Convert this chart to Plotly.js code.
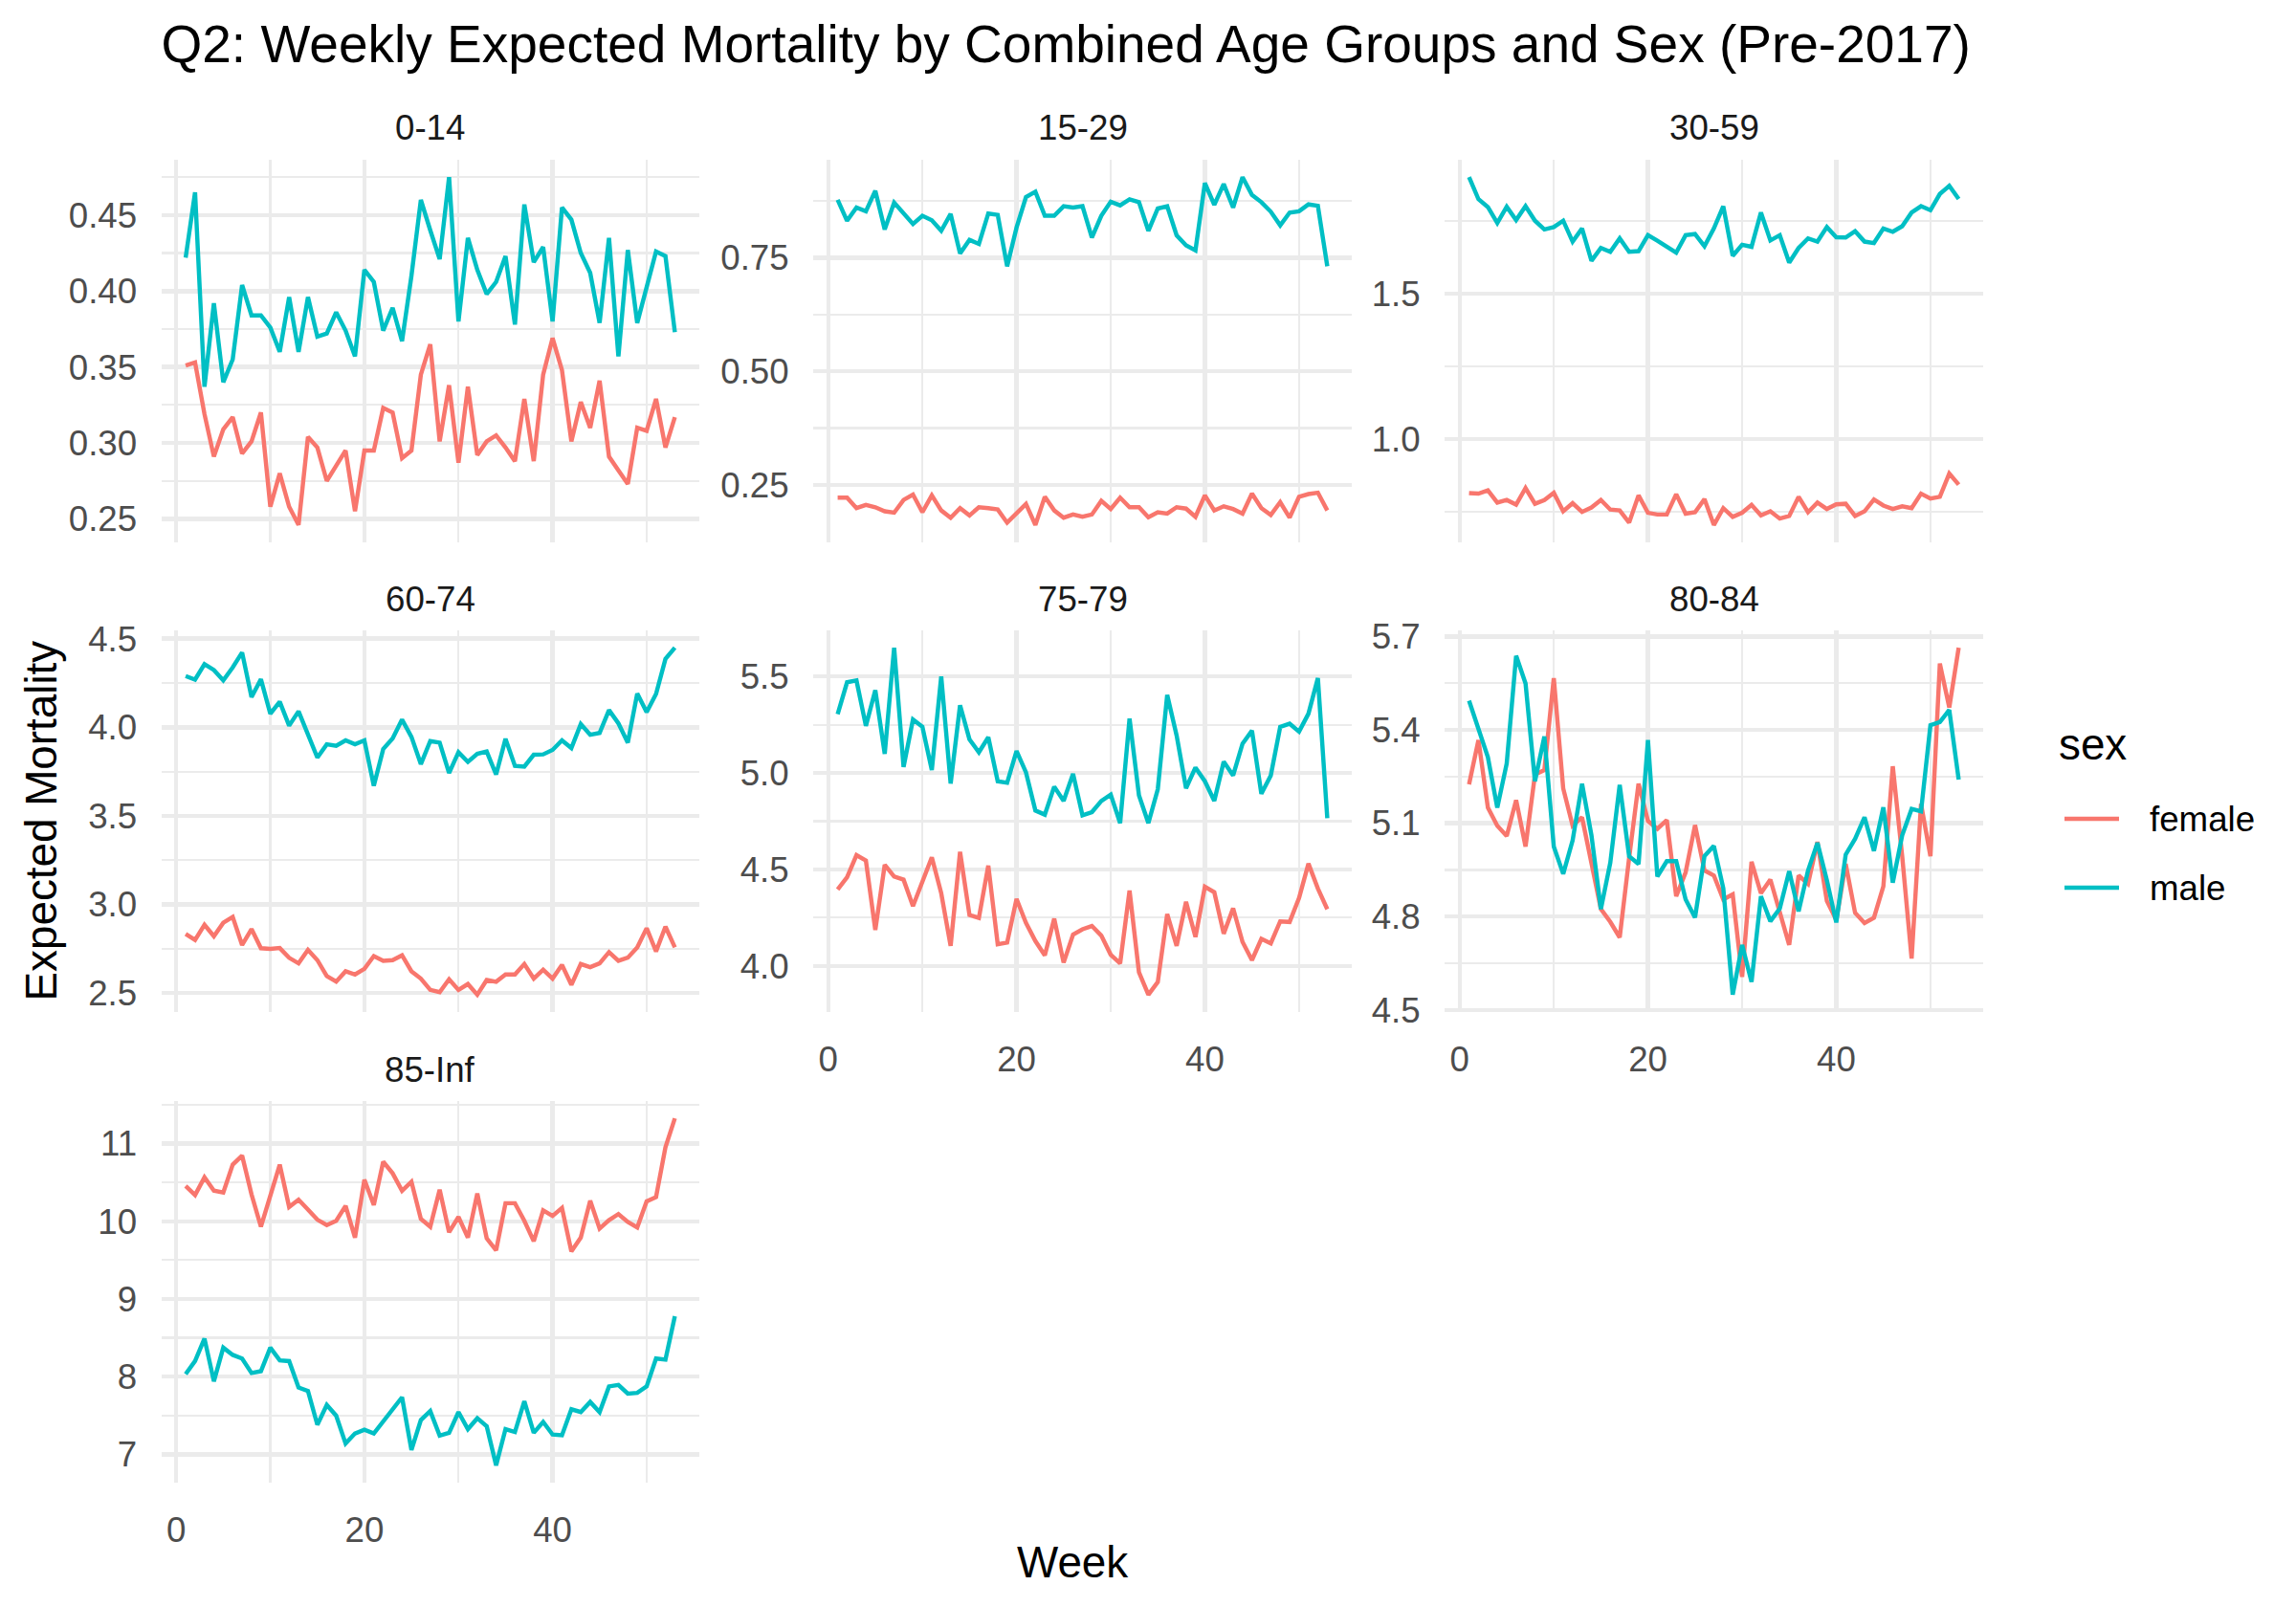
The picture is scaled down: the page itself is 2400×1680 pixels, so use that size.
<!DOCTYPE html>
<html>
<head>
<meta charset="utf-8">
<script src="https://cdn.plot.ly/plotly-3.0.1.min.js"></script>
<style>html,body{margin:0;padding:0;background:#fff;}#chart{width:2400px;height:1680px;}</style>
</head>
<body>
<div id="chart"></div>
<script>
// ---------------- data ----------------
const weeks = [1,2,3,4,5,6,7,8,9,10,11,12,13,14,15,16,17,18,19,20,21,22,23,24,25,26,27,28,29,30,31,32,33,34,35,36,37,38,39,40,41,42,43,44,45,46,47,48,49,50,51,52,53];
const ageGroups = ["0-14","15-29","30-59","60-74","75-79","80-84","85-Inf"];
const sexes = ["female","male"];

const female_0_14 = [0.351,0.353,0.319,0.291,0.309,0.317,0.293,0.301,0.320,0.258,0.280,0.258,0.246,0.304,0.297,0.275,0.285,0.295,0.255,0.295,0.295,0.323,0.320,0.290,0.295,0.345,0.365,0.301,0.338,0.287,0.337,0.292,0.301,0.305,0.297,0.288,0.329,0.288,0.345,0.369,0.348,0.301,0.327,0.310,0.341,0.291,0.282,0.273,0.310,0.308,0.329,0.297,0.317];
const male_0_14 = [0.422,0.465,0.337,0.392,0.340,0.355,0.404,0.384,0.384,0.376,0.360,0.396,0.360,0.396,0.370,0.372,0.386,0.374,0.357,0.414,0.406,0.374,0.389,0.367,0.410,0.460,0.440,0.421,0.475,0.380,0.435,0.414,0.398,0.406,0.423,0.378,0.457,0.419,0.429,0.380,0.455,0.447,0.425,0.412,0.379,0.435,0.357,0.427,0.379,0.402,0.426,0.423,0.373];

const female_15_29 = [0.222,0.222,0.199,0.206,0.201,0.192,0.189,0.217,0.229,0.190,0.227,0.194,0.178,0.199,0.183,0.201,0.199,0.196,0.167,0.186,0.208,0.162,0.224,0.194,0.178,0.185,0.180,0.185,0.215,0.197,0.222,0.201,0.201,0.179,0.190,0.187,0.201,0.198,0.180,0.227,0.194,0.203,0.197,0.187,0.231,0.199,0.184,0.212,0.178,0.224,0.230,0.233,0.194];
const male_15_29 = [0.877,0.831,0.860,0.852,0.897,0.812,0.871,0.849,0.824,0.842,0.832,0.809,0.846,0.759,0.789,0.780,0.847,0.844,0.731,0.816,0.883,0.895,0.842,0.842,0.863,0.860,0.863,0.794,0.842,0.873,0.865,0.878,0.872,0.809,0.858,0.863,0.799,0.777,0.766,0.914,0.866,0.912,0.860,0.927,0.888,0.872,0.851,0.821,0.849,0.852,0.867,0.864,0.731];

const female_30_59 = [0.814,0.812,0.823,0.781,0.790,0.774,0.831,0.777,0.790,0.815,0.751,0.779,0.749,0.764,0.790,0.757,0.754,0.712,0.806,0.746,0.740,0.740,0.810,0.743,0.748,0.793,0.704,0.762,0.732,0.746,0.773,0.737,0.751,0.726,0.735,0.801,0.748,0.781,0.759,0.775,0.777,0.735,0.751,0.792,0.771,0.759,0.768,0.762,0.812,0.795,0.801,0.881,0.843];
const male_30_59 = [1.902,1.826,1.799,1.744,1.800,1.754,1.802,1.752,1.722,1.730,1.752,1.680,1.725,1.614,1.658,1.645,1.691,1.645,1.647,1.702,1.683,1.662,1.642,1.702,1.706,1.664,1.725,1.802,1.631,1.669,1.662,1.780,1.684,1.702,1.608,1.658,1.691,1.680,1.730,1.695,1.694,1.716,1.680,1.675,1.725,1.714,1.733,1.780,1.802,1.788,1.844,1.872,1.827];

const female_60_74 = [2.834,2.800,2.885,2.821,2.897,2.930,2.771,2.861,2.753,2.749,2.754,2.699,2.668,2.744,2.686,2.596,2.565,2.623,2.605,2.637,2.709,2.682,2.686,2.713,2.623,2.582,2.518,2.505,2.578,2.518,2.551,2.491,2.574,2.564,2.605,2.605,2.664,2.582,2.632,2.582,2.659,2.547,2.664,2.646,2.668,2.731,2.682,2.700,2.758,2.866,2.735,2.875,2.758];
const male_60_74 = [4.289,4.269,4.356,4.323,4.265,4.338,4.422,4.170,4.271,4.076,4.144,4.009,4.090,3.953,3.829,3.904,3.895,3.926,3.904,3.926,3.670,3.877,3.937,4.043,3.946,3.792,3.922,3.913,3.742,3.859,3.805,3.850,3.863,3.733,3.935,3.782,3.778,3.845,3.847,3.872,3.926,3.883,4.018,3.958,3.968,4.097,4.022,3.913,4.190,4.085,4.188,4.386,4.449];

const female_75_79 = [4.396,4.459,4.574,4.546,4.186,4.524,4.463,4.447,4.310,4.437,4.563,4.377,4.104,4.591,4.264,4.249,4.520,4.112,4.121,4.347,4.223,4.129,4.055,4.245,4.017,4.162,4.190,4.207,4.157,4.058,4.013,4.390,3.967,3.851,3.917,4.269,4.104,4.332,4.150,4.410,4.382,4.167,4.299,4.124,4.030,4.140,4.117,4.231,4.228,4.352,4.530,4.401,4.294];
const male_75_79 = [5.305,5.470,5.479,5.244,5.429,5.099,5.649,5.031,5.277,5.239,5.015,5.500,4.945,5.351,5.174,5.107,5.185,4.957,4.949,5.114,5.003,4.805,4.784,4.929,4.855,4.996,4.780,4.797,4.855,4.888,4.740,5.282,4.884,4.740,4.916,5.404,5.194,4.921,5.028,4.957,4.855,5.058,4.987,5.152,5.219,4.892,4.987,5.239,5.255,5.214,5.307,5.492,4.765];

const female_80_84 = [5.225,5.367,5.150,5.092,5.059,5.174,5.025,5.256,5.271,5.566,5.212,5.092,5.119,4.978,4.824,4.783,4.733,4.988,5.227,5.107,5.082,5.110,4.865,4.942,5.094,4.948,4.932,4.855,4.871,4.606,4.976,4.875,4.919,4.814,4.709,4.932,4.905,5.040,4.850,4.789,4.969,4.812,4.779,4.796,4.897,5.283,4.994,4.665,5.162,4.994,5.613,5.472,5.664];
const male_80_84 = [5.494,5.400,5.312,5.150,5.292,5.638,5.549,5.235,5.379,5.025,4.937,5.045,5.227,5.061,4.824,4.973,5.223,4.994,4.969,5.367,4.929,4.978,4.978,4.855,4.797,4.994,5.027,4.891,4.549,4.709,4.590,4.865,4.785,4.826,4.946,4.817,4.948,5.037,4.917,4.781,4.999,5.050,5.119,5.011,5.151,4.909,5.061,5.146,5.138,5.415,5.425,5.464,5.240];

const female_85_Inf = [10.455,10.338,10.566,10.394,10.371,10.730,10.846,10.347,9.930,10.326,10.730,10.184,10.277,10.152,10.021,9.951,10.007,10.198,9.790,10.536,10.210,10.767,10.618,10.394,10.510,10.031,9.930,10.406,9.860,10.056,9.790,10.357,9.781,9.627,10.233,10.233,10.007,9.744,10.140,10.070,10.172,9.613,9.790,10.266,9.907,10.014,10.093,9.991,9.921,10.256,10.312,10.953,11.326];
const male_85_Inf = [8.033,8.200,8.490,7.939,8.373,8.280,8.233,8.047,8.070,8.373,8.210,8.200,7.860,7.814,7.380,7.636,7.497,7.138,7.268,7.315,7.268,7.417,7.580,7.734,7.054,7.441,7.557,7.240,7.277,7.543,7.324,7.464,7.361,6.858,7.324,7.287,7.683,7.277,7.417,7.254,7.245,7.580,7.543,7.674,7.543,7.874,7.893,7.781,7.790,7.874,8.233,8.219,8.779];

const xTickVals = [0,20,40];
const yTickStep = [0.05,0.25,0.5,0.5,0.5,0.3,1];
const yTickFormat = [".2f",".2f",".1f",".1f",".1f",".1f","d"];

// ---------------- styling / layout (pixels) ----------------
const W = 2400, H = 1680;
const FONT = "Liberation Sans, Arial, Helvetica, sans-serif";
const colPx = [[168.5,731],[850,1413],[1510,2073]];
const rowPx = [[167,567],[659,1058],[1151,1550]];
const colors = {female:"#F8766D", male:"#00BFC4"};
const GRID = "#EBEBEB";
const LINE_W = 4.45;

const femaleSeries = [female_0_14,female_15_29,female_30_59,female_60_74,female_75_79,female_80_84,female_85_Inf];
const maleSeries = [male_0_14,male_15_29,male_30_59,male_60_74,male_75_79,male_80_84,male_85_Inf];
const panelPos = [[0,0],[0,1],[0,2],[1,0],[1,1],[1,2],[2,0]];
const showXLabels = [false,false,false,false,true,true,true];

const traces = [];
const layout = {
  width: W, height: H,
  margin: {l:0,r:0,t:0,b:0,pad:0},
  paper_bgcolor: "#ffffff",
  plot_bgcolor: "#ffffff",
  font: {family: FONT, color: "#000000"},
  title: {
    text: "Q2: Weekly Expected Mortality by Combined Age Groups and Sex (Pre-2017)",
    x: 168.5/W, xref: "container", xanchor: "left",
    y: 1 - 46/H, yref: "container", yanchor: "middle",
    font: {family: FONT, size: 55, color: "#000000"}
  },
  showlegend: false,
  annotations: [],
  shapes: []
};

ageGroups.forEach((g, i) => {
  const k = i + 1;
  const [r, c] = panelPos[i];
  const f = femaleSeries[i], m = maleSeries[i];
  const all = f.concat(m);
  const lo = Math.min(...all), hi = Math.max(...all);
  const pad = (hi - lo) * 0.05;
  const xa = "xaxis" + (k === 1 ? "" : k);
  const ya = "yaxis" + (k === 1 ? "" : k);
  const xs = "x" + (k === 1 ? "" : k);
  const ys = "y" + (k === 1 ? "" : k);

  [["female", f], ["male", m]].forEach(([s, vals]) => {
    traces.push({
      type: "scatter", mode: "lines",
      x: weeks, y: vals,
      xaxis: xs, yaxis: ys,
      name: s, legendgroup: s, showlegend: false,
      line: {color: colors[s], width: LINE_W},
      hoverinfo: "x+y+name"
    });
  });

  layout[xa] = {
    domain: [colPx[c][0]/W, colPx[c][1]/W],
    anchor: ys,
    range: [1 - 52*0.05, 53 + 52*0.05],
    tickmode: "array", tickvals: xTickVals,
    showgrid: true, gridcolor: GRID, gridwidth: 4.45,
    minor: {tickmode: "linear", tick0: 0, dtick: 10, showgrid: true, gridcolor: GRID, gridwidth: 2.2},
    zeroline: false, showline: false,
    showticklabels: showXLabels[i],
    ticks: "outside", ticklen: 17, tickcolor: "rgba(0,0,0,0)",
    tickfont: {family: FONT, size: 36.7, color: "#4D4D4D"},
    fixedrange: true
  };
  layout[ya] = {
    domain: [1 - rowPx[r][1]/H, 1 - rowPx[r][0]/H],
    anchor: xs,
    range: [lo - pad, hi + pad],
    tickmode: "linear", tick0: 0, dtick: yTickStep[i],
    tickformat: yTickFormat[i],
    showgrid: true, gridcolor: GRID, gridwidth: 4.45,
    minor: {tickmode: "linear", tick0: 0, dtick: yTickStep[i]/2, showgrid: true, gridcolor: GRID, gridwidth: 2.2},
    zeroline: false, showline: false,
    ticks: "outside", ticklen: 17, tickcolor: "rgba(0,0,0,0)",
    tickfont: {family: FONT, size: 36.7, color: "#4D4D4D"},
    fixedrange: true
  };

  // facet strip label
  layout.annotations.push({
    text: g, xref: "paper", yref: "paper",
    x: (colPx[c][0] + colPx[c][1]) / 2 / W, xanchor: "center",
    y: 1 - (rowPx[r][0] - 33) / H, yanchor: "middle",
    showarrow: false,
    font: {family: FONT, size: 36.7, color: "#1A1A1A"}
  });
});

// axis titles
layout.annotations.push({
  text: "Week", xref: "paper", yref: "paper",
  x: (colPx[0][0] + colPx[2][1]) / 2 / W, xanchor: "center",
  y: 1 - 1633/H, yanchor: "middle", showarrow: false,
  font: {family: FONT, size: 45.8, color: "#000000"}
});
layout.annotations.push({
  text: "Expected Mortality", xref: "paper", yref: "paper",
  x: 43/W, xanchor: "center",
  y: 1 - ((rowPx[0][0] + rowPx[2][1]) / 2) / H, yanchor: "middle",
  textangle: -90, showarrow: false,
  font: {family: FONT, size: 45.8, color: "#000000"}
});

// legend (guide for the colour scale "sex")
const legendTitlePx = {x: 2150, y: 778};
const legendKeyX = [2158, 2215];
const legendTextX = 2245;
const legendRowY = [856, 928];
layout.annotations.push({
  text: "sex", xref: "paper", yref: "paper",
  x: legendTitlePx.x / W, xanchor: "left",
  y: 1 - legendTitlePx.y / H, yanchor: "middle", showarrow: false,
  font: {family: FONT, size: 45.8, color: "#000000"}
});
sexes.forEach((s, j) => {
  layout.shapes.push({
    type: "line", xref: "paper", yref: "paper",
    x0: legendKeyX[0] / W, x1: legendKeyX[1] / W,
    y0: 1 - legendRowY[j] / H, y1: 1 - legendRowY[j] / H,
    line: {color: colors[s], width: LINE_W}
  });
  layout.annotations.push({
    text: s, xref: "paper", yref: "paper",
    x: legendTextX / W, xanchor: "left",
    y: 1 - legendRowY[j] / H, yanchor: "middle", showarrow: false,
    font: {family: FONT, size: 36.7, color: "#000000"}
  });
});

Plotly.newPlot("chart", traces, layout, {displayModeBar: false, staticPlot: true});
</script>
</body>
</html>
